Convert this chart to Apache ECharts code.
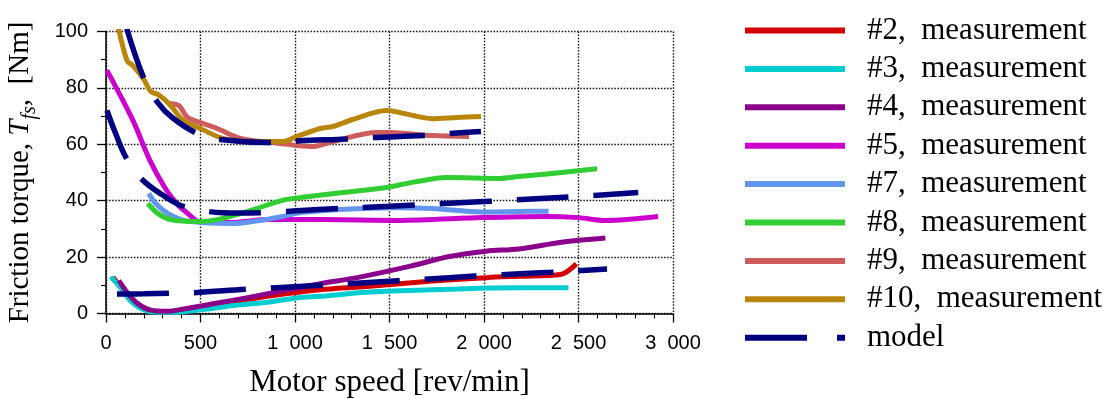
<!DOCTYPE html>
<html>
<head>
<meta charset="utf-8">
<script src="https://cdn.jsdelivr.net/npm/echarts@6/dist/echarts.min.js"></script>
<style>
  html, body { margin: 0; padding: 0; background: #fff; }
  #chart { width: 1115px; height: 399px; }
</style>
</head>
<body>
<div id="chart"></div>
<script>
// Friction torque measurements per machine (speed in rev/min, torque in Nm)
const speed2  = [37, 79, 132, 184, 253, 358, 500, 674, 853, 1026, 1132, 1379, 1726, 2011, 2184, 2405, 2489];
const torque2 = [12.8, 9.2, 4.6, 2.1, 0.6, 0.6, 2.2, 4.0, 6.1, 7.6, 8.4, 9.6, 11.5, 12.7, 13.2, 13.8, 17.6];

const speed3  = [25, 79, 132, 184, 253, 358, 500, 674, 853, 1026, 1132, 1379, 1726, 2011, 2184, 2447];
const torque3 = [13.0, 9.0, 4.3, 1.8, 0.5, 0.4, 1.3, 2.8, 4.0, 5.7, 6.1, 7.5, 8.4, 9.0, 9.1, 9.1];

const speed4  = [68, 116, 168, 237, 326, 411, 589, 763, 937, 1026, 1132, 1342, 1605, 1816, 2011, 2184, 2411, 2642];
const torque4 = [11.7, 7.1, 3.5, 1.2, 0.8, 1.6, 3.7, 5.8, 8.1, 9.2, 10.6, 12.9, 16.7, 20.2, 22.1, 22.9, 25.3, 26.8];

const speed5  = [5, 143, 232, 311, 374, 432, 495, 674, 853, 1132, 1553, 1989, 2326, 2500, 2642, 2921];
const torque5 = [86.2, 68.4, 54.3, 44.7, 39.0, 35.5, 32.5, 32.3, 33.3, 33.3, 33.0, 34.0, 34.4, 34.0, 33.0, 34.4];

const speed7  = [226, 263, 326, 411, 500, 674, 816, 921, 1026, 1237, 1553, 1726, 1989, 2184, 2342];
const torque7 = [42.6, 39.0, 35.5, 33.0, 32.3, 31.9, 33.0, 34.2, 35.7, 36.9, 37.5, 37.2, 36.0, 36.2, 36.3];

const speed8  = [221, 274, 342, 484, 589, 763, 937, 1050, 1253, 1484, 1621, 1804, 2085, 2184, 2333, 2598];
const torque8 = [39.0, 35.5, 33.3, 32.6, 33.3, 36.5, 40.2, 41.3, 42.9, 44.7, 46.5, 48.2, 47.9, 48.6, 49.5, 51.3];

const speed9  = [326, 384, 432, 500, 589, 711, 884, 1011, 1095, 1200, 1432, 1500, 1726, 1921];
const torque9 = [74.5, 73.8, 69.5, 67.7, 65.6, 62.1, 60.6, 59.6, 59.2, 61.0, 64.2, 64.2, 63.1, 62.8];

const speed10  = [60, 111, 142, 200, 237, 274, 332, 411, 500, 605, 726, 937, 1011, 1132, 1200, 1305, 1484, 1553, 1726, 1853, 1984];
const torque10 = [103, 89.7, 87.9, 83.0, 78.7, 77.7, 74.5, 68.4, 65.6, 62.4, 61.0, 61.0, 62.8, 65.6, 66.3, 68.8, 72.0, 71.3, 69.1, 69.5, 69.9];

// Model curves: high-friction group, mid group, low group
const speedModelHigh  = [110, 205, 274, 350, 484, 605, 879, 1011, 1284, 1411, 1684, 1811, 1984];
const torqueModelHigh = [101, 82.6, 74.8, 69.5, 63.8, 61.7, 60.6, 61.2, 61.9, 62.4, 63.1, 63.8, 64.5];

const speedModelMid  = [5, 50, 106, 185, 300, 411, 537, 700, 900, 1100, 1500, 2000, 2500, 2816];
const torqueModelMid = [72, 64, 55.3, 47.9, 42.0, 37.9, 36.2, 35.6, 36.0, 36.8, 38.0, 39.7, 41.5, 42.9];

const speedModelLow  = [58, 200, 333, 466, 741, 868, 1132, 1275, 1545, 1677, 1952, 2079, 2354, 2487, 2651];
const torqueModelLow = [6.9, 7.0, 7.2, 7.4, 8.6, 9.0, 10.0, 10.5, 11.6, 12.1, 13.3, 13.7, 14.6, 15.1, 15.8];

const xTicks = { min: 0, max: 3000, step: 500 };
const yTicks = { min: 0, max: 100, step: 20 };

const legendNames = [
  '#2,  measurement', '#3,  measurement', '#4,  measurement', '#5,  measurement',
  '#7,  measurement', '#8,  measurement', '#9,  measurement', '#10,  measurement', 'model'
];

const serif = 'Liberation Serif';
const sans = 'Liberation Sans';

// legend swatches: solid bar for measurements, long dash + short dash for the model
const solidIcon = 'path://M0,0H100V6H0Z';
const dashIcon = 'path://M0,0H62V6H0Z M92,0H100V6H92Z';

function pairs(xs, ys) { return xs.map((x, i) => [x, ys[i]]); }

function measurement(name, xs, ys, color) {
  return {
    name, type: 'line', data: pairs(xs, ys),
    showSymbol: false, symbol: 'none', smooth: 0.3,
    lineStyle: { color, width: 5, join: 'round' },
    itemStyle: { color },
    silent: true, emphasis: { disabled: true }
  };
}

function model(xs, ys) {
  return {
    name: 'model', type: 'line', data: pairs(xs, ys),
    showSymbol: false, symbol: 'none', smooth: 0.4,
    lineStyle: { color: '#000080', width: 5.5, type: [52, 25] },
    itemStyle: { color: '#000080' },
    silent: true, emphasis: { disabled: true }, z: 5
  };
}

function thousands(v) {
  if (v < 1000) return String(v);
  const s = String(v);
  return s.slice(0, s.length - 3) + '  ' + s.slice(-3);
}

const chart = echarts.init(document.getElementById('chart'), null, { renderer: 'canvas' });

const gridLine = { color: '#111', width: 1.4, type: [1.5, 1.6] };

chart.setOption({
  animation: false,
  backgroundColor: '#fff',
  grid: { left: 106, top: 31.5, right: 442, bottom: 85.5, outerBoundsMode: 'none', containLabel: false },
  xAxis: {
    type: 'value', min: xTicks.min, max: xTicks.max, interval: xTicks.step,
    name: 'Motor speed [rev/min]', nameLocation: 'middle', nameGap: 54,
    nameTextStyle: { fontFamily: serif, fontSize: 31, color: '#000' },
    axisLine: { show: true, onZero: false, lineStyle: { color: '#000', width: 1.5 } },
    axisTick: { show: true, length: 9, lineStyle: { color: '#000', width: 1.3 } },
    minorTick: { show: true, splitNumber: 5, length: 5, lineStyle: { color: '#000', width: 1.1 } },
    splitLine: { show: true, lineStyle: gridLine },
    axisLabel: { fontFamily: sans, fontSize: 20, color: '#000', margin: 20, formatter: thousands }
  },
  yAxis: {
    type: 'value', min: yTicks.min, max: yTicks.max, interval: yTicks.step,
    name: '{n|Friction torque, }{i|T}{s|fs}{n|,  [Nm]}',
    nameLocation: 'middle', nameGap: 66, nameRotate: 90,
    nameTextStyle: {
      rich: {
        n: { fontFamily: serif, fontSize: 29, color: '#000', lineHeight: 40 },
        i: { fontFamily: serif, fontSize: 29, fontStyle: 'italic', color: '#000', lineHeight: 40 },
        s: { fontFamily: serif, fontSize: 20, fontStyle: 'italic', color: '#000', lineHeight: 20, verticalAlign: 'bottom' }
      }
    },
    axisLine: { show: true, onZero: false, lineStyle: { color: '#000', width: 1.5 } },
    axisTick: { show: true, length: 9, lineStyle: { color: '#000', width: 1.3 } },
    minorTick: { show: true, splitNumber: 2, length: 5, lineStyle: { color: '#000', width: 1.1 } },
    splitLine: { show: true, lineStyle: gridLine },
    axisLabel: { fontFamily: sans, fontSize: 20, color: '#000', margin: 18 }
  },
  legend: {
    orient: 'vertical', left: 745, top: 15, padding: 0,
    itemWidth: 100, itemHeight: 6, itemGap: 7.4,
    selectedMode: false,
    textStyle: { fontFamily: serif, fontSize: 31, lineHeight: 31, color: '#000', padding: [0, 0, 0, 17] },
    data: legendNames.map((name, i) => ({
      name,
      icon: i === legendNames.length - 1 ? dashIcon : solidIcon
    }))
  },
  series: [
    measurement(legendNames[0], speed2, torque2, '#d40000'),
    measurement(legendNames[1], speed3, torque3, '#00cdd0'),
    measurement(legendNames[2], speed4, torque4, '#8b008b'),
    measurement(legendNames[3], speed5, torque5, '#cc00cc'),
    measurement(legendNames[4], speed7, torque7, '#6495ed'),
    measurement(legendNames[5], speed8, torque8, '#32cd32'),
    measurement(legendNames[6], speed9, torque9, '#cd5c5c'),
    measurement(legendNames[7], speed10, torque10, '#b8860b'),
    model(speedModelHigh, torqueModelHigh),
    model(speedModelMid, torqueModelMid),
    model(speedModelLow, torqueModelLow)
  ]
});
</script>
</body>
</html>
